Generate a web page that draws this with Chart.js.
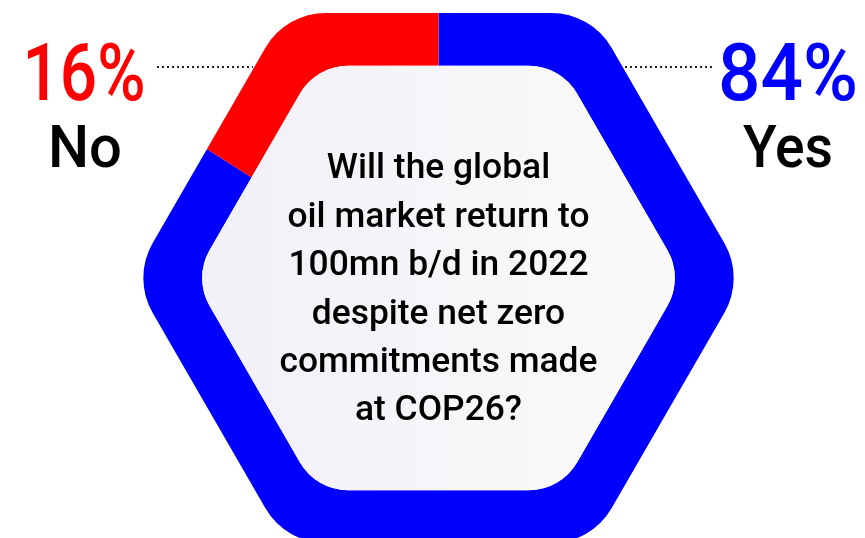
<!DOCTYPE html>
<html>
<head>
<meta charset="utf-8">
<script src="https://cdn.jsdelivr.net/npm/chart.js@4"></script>
<style>
  html, body { margin: 0; padding: 0; background: #ffffff; }
  #wrap { position: relative; width: 865px; height: 538px; }
</style>
</head>
<body>
<div id="wrap"><canvas id="poll"></canvas></div>
<script>
// Survey result: share of answers
const categories = ['Yes', 'No'];
const shares = [84, 16];
const sliceColors = ['#0000ff', '#ff0000'];
const question = [
  'Will the global',
  'oil market return to',
  '100mn b/d in 2022',
  'despite net zero',
  'commitments made',
  'at COP26?'
];

// Hexagonal frame geometry
const HEX = { cx: 438.5, cy: 278, outerR: 306, innerR: 245, outerRound: 70, innerRound: 56 };
const FONT = 'Roboto, "Noto Sans", "DejaVu Sans", sans-serif';

function hexPath(ctx, cx, cy, R, r) {
  const v = [];
  for (let i = 0; i < 6; i++) {
    const a = i * Math.PI / 3;
    v.push([cx + R * Math.cos(a), cy + R * Math.sin(a)]);
  }
  ctx.moveTo((v[5][0] + v[0][0]) / 2, (v[5][1] + v[0][1]) / 2);
  for (let i = 0; i < 6; i++) {
    const a = v[i], b = v[(i + 1) % 6];
    ctx.arcTo(a[0], a[1], b[0], b[1], r);
  }
  ctx.closePath();
}

function drawText(ctx, text, x, y, size, weight, color, sx) {
  ctx.save();
  ctx.font = `${weight} ${size}px ${FONT}`;
  ctx.translate(x, y);
  ctx.scale(sx, 1);
  ctx.fillStyle = color;
  ctx.textAlign = 'center';
  ctx.textBaseline = 'alphabetic';
  ctx.fillText(text, 0, 0);
  ctx.restore();
}

function widthOf(ctx, text, size, weight) {
  ctx.font = `${weight} ${size}px ${FONT}`;
  return ctx.measureText(text).width;
}

const hexFrame = {
  id: 'hexFrame',
  beforeDatasetsDraw(chart) {
    const ctx = chart.ctx;
    ctx.save();
    ctx.beginPath();
    hexPath(ctx, HEX.cx, HEX.cy, HEX.outerR, HEX.outerRound);
    hexPath(ctx, HEX.cx, HEX.cy, HEX.innerR, HEX.innerRound);
    ctx.clip('evenodd');
  },
  afterDatasetsDraw(chart) {
    const ctx = chart.ctx;
    ctx.restore();

    // inner panel
    const g = ctx.createLinearGradient(HEX.cx - HEX.innerR, 0, HEX.cx + HEX.innerR, 0);
    g.addColorStop(0, '#f2f0f7');
    g.addColorStop(1, '#fafafa');
    ctx.save();
    ctx.beginPath();
    hexPath(ctx, HEX.cx, HEX.cy, HEX.innerR, HEX.innerRound);
    ctx.fillStyle = g;
    ctx.fill();
    ctx.restore();

    // question text
    const qSize = 35, qWeight = 500;
    const qScale = 318 / widthOf(ctx, question[4], qSize, qWeight);
    const baselines = [178, 227, 275, 324, 372, 420];
    question.forEach((line, i) => drawText(ctx, line, HEX.cx, baselines[i], qSize, qWeight, '#000000', qScale));

    // percentages and answers
    const pctSize = 80, wordSize = 60, lw = 500;
    const yesPct = shares[0] + '%', noPct = shares[1] + '%';
    drawText(ctx, noPct, 84, 100, pctSize, lw, sliceColors[1], 123 / widthOf(ctx, noPct, pctSize, lw));
    drawText(ctx, categories[1], 85, 167, wordSize, lw, '#000000', 74 / widthOf(ctx, categories[1], wordSize, lw));
    drawText(ctx, yesPct, 788, 100, pctSize, lw, sliceColors[0], 140 / widthOf(ctx, yesPct, pctSize, lw));
    drawText(ctx, categories[0], 788, 167, wordSize, lw, '#000000', 90 / widthOf(ctx, categories[0], wordSize, lw));

    // dotted leaders
    ctx.save();
    ctx.strokeStyle = '#222222';
    ctx.lineWidth = 2;
    ctx.setLineDash([2, 3]);
    ctx.beginPath();
    ctx.moveTo(157, 67); ctx.lineTo(253, 67);
    ctx.moveTo(625, 67); ctx.lineTo(713, 67);
    ctx.stroke();
    ctx.restore();
  }
};

new Chart(document.getElementById('poll'), {
  type: 'pie',
  data: {
    labels: categories,
    datasets: [{
      data: shares,
      backgroundColor: sliceColors,
      borderWidth: 0
    }]
  },
  options: {
    responsive: true,
    maintainAspectRatio: false,
    animation: false,
    radius: 420,
    layout: { padding: { left: 12, right: 0, top: 54, bottom: 0 } },
    plugins: {
      legend: { display: false },
      tooltip: { enabled: false }
    }
  },
  plugins: [hexFrame]
});
</script>
</body>
</html>
